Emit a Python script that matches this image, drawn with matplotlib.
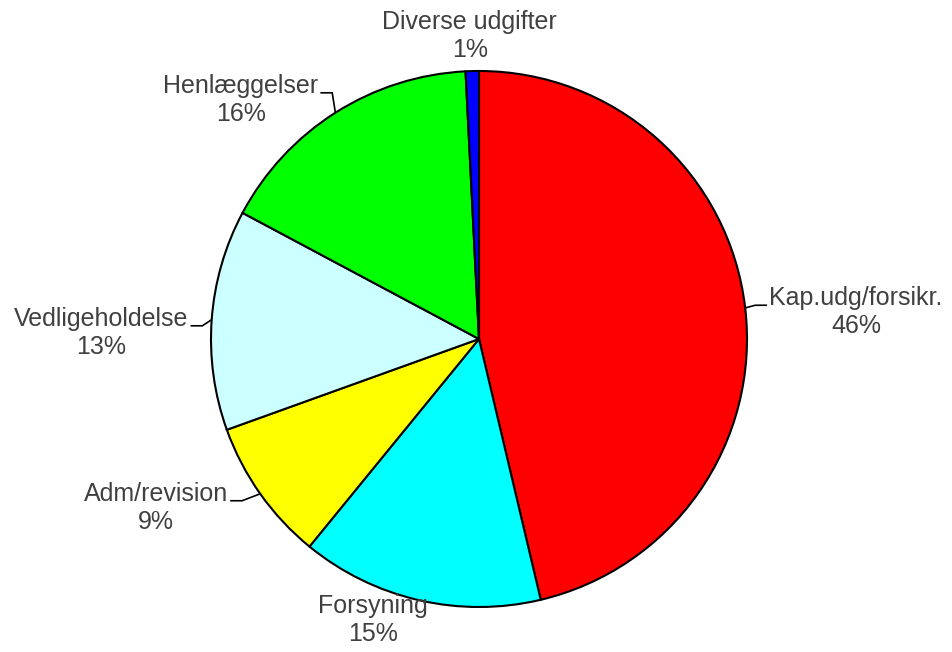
import numpy as np
import matplotlib
matplotlib.use("Agg")
import matplotlib.pyplot as plt

# data (share of total, %)
categories = ["Kap.udg/forsikr.", "Forsyning", "Adm/revision",
              "Vedligeholdelse", "Henlæggelser", "Diverse udgifter"]
shares = [46.3, 14.6, 8.6, 13.3, 16.4, 0.8]
colors = ["#FF0000", "#00FFFF", "#FFFF00", "#CCFFFF", "#00FF00", "#0000FF"]

# label placement: radius and angle offset (deg) from the wedge mid-angle, leader side
label_radius = [1.41, 1.12, 1.36, 1.41, 1.26, 1.13]
label_angle = [-2.6, -7.8, -7.7, 3.2, 12.5, 0.3]
leader = ["left", None, "right", "right", "right", None]

plt.rcParams['font.family'] = ['Liberation Sans', 'DejaVu Sans']
text_color = "#404040"

fig = plt.figure(figsize=(9.52, 6.52), dpi=100)
ax = fig.add_axes([0, 0, 1, 1])
W, H = 952, 652
cx, cy, R = 479, 339, 268

wedges, _ = ax.pie(shares, colors=colors, startangle=90, counterclock=False,
                   radius=1.0, center=(0, 0), frame=True,
                   wedgeprops=dict(edgecolor="black", linewidth=1.5))
ax.set_xlim(-cx / R, (W - cx) / R)
ax.set_ylim(-(H - cy) / R, cy / R)
ax.set_aspect("auto")
ax.axis("off")

texts = []
for w, name, s, lr, la in zip(wedges, categories, shares, label_radius, label_angle):
    mid = np.deg2rad((w.theta1 + w.theta2) / 2)
    ang = mid + np.deg2rad(la)
    t = ax.text(lr * np.cos(ang), lr * np.sin(ang), f"{name}\n{round(s):.0f}%",
                ha="center", va="center", fontsize=18, color=text_color,
                linespacing=1.2)
    texts.append((t, mid))

fig.canvas.draw()
renderer = fig.canvas.get_renderer()
inv = ax.transData.inverted()
gap = 3 / R
elbow = 11 / R
for (t, mid), side in zip(texts, leader):
    if side is None:
        continue
    bb = t.get_window_extent(renderer)
    (x0, y0), (x1, y1) = inv.transform([(bb.x0, bb.y0), (bb.x1, bb.y1)])
    ly = (y0 + y1) / 2 + 7 / R
    ex, ey = np.cos(mid), np.sin(mid)
    if side == "left":
        tx = x0 - gap
        ex_el = tx - elbow
    else:
        tx = x1 + gap
        ex_el = tx + elbow
    ax.plot([ex, ex_el, tx], [ey, ly, ly], color="black", lw=1.2,
            solid_joinstyle="miter", zorder=0.5)

fig.savefig("out.png", dpi=100)
